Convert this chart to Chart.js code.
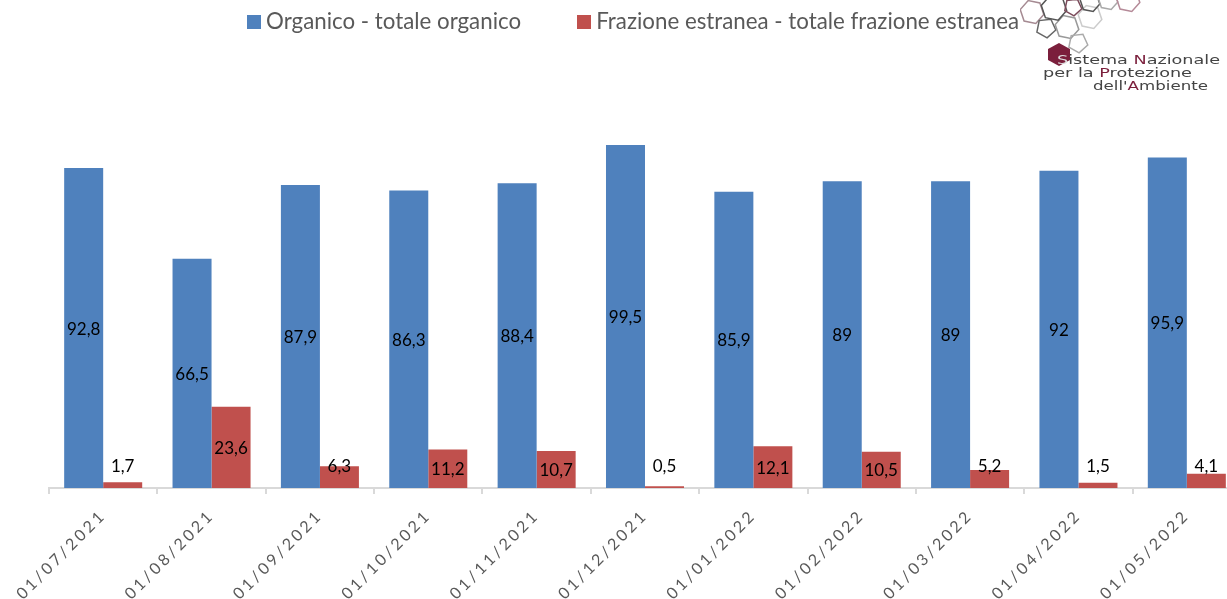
<!DOCTYPE html>
<html>
<head>
<meta charset="utf-8">
<title>Organico e frazione estranea</title>
<script src="https://cdn.jsdelivr.net/npm/chart.js@4"></script>
<style>
  html, body { margin: 0; padding: 0; background: #fff; overflow: hidden; }
  #wrap { position: relative; width: 1227px; height: 599px; overflow: hidden; }
  #chart-box { position: absolute; left: 0; top: 0; width: 1241px; height: 599px; }
  #logo { position: absolute; left: 1020px; top: 0; }
</style>
</head>
<body>
<div id="wrap">
  <div id="chart-box"><canvas id="chart"></canvas></div>
  <svg id="logo" width="207" height="100" viewBox="1020 0 207 100">
    <g fill="none" stroke-width="1.5" id="hexes"></g>
    <polygon points="1059,43 1070,49 1070,60 1059,66 1048,60 1048,49" fill="#7b1f3c"/>
    <g font-family="DejaVu Sans" font-size="12.5" fill="#444">
      <text x="1057" y="64" textLength="163" lengthAdjust="spacingAndGlyphs"><tspan fill="#ddd">S</tspan>istema <tspan fill="#7b1f3c">N</tspan>azionale</text>
      <text x="1043" y="77" textLength="149" lengthAdjust="spacingAndGlyphs">per la <tspan fill="#7b1f3c">P</tspan>rotezione</text>
      <text x="1093" y="90" textLength="115" lengthAdjust="spacingAndGlyphs">dell'<tspan fill="#7b1f3c">A</tspan>mbiente</text>
    </g>
  </svg>
</div>
<script>
const categories = ['01/07/2021', '01/08/2021', '01/09/2021', '01/10/2021', '01/11/2021', '01/12/2021',
  '01/01/2022', '01/02/2022', '01/03/2022', '01/04/2022', '01/05/2022'];
const organico = [92.8, 66.5, 87.9, 86.3, 88.4, 99.5, 85.9, 89, 89, 92, 95.9];
const estranea = [1.7, 23.6, 6.3, 11.2, 10.7, 0.5, 12.1, 10.5, 5.2, 1.5, 4.1];
const seriesNames = ['Organico - totale organico', 'Frazione estranea - totale frazione estranea'];

const BLUE = '#4f81bd';
const RED = '#c0504d';
const FONT = 'Lato, Carlito, sans-serif';

// logo outlines, just decoration
const hexes = [
  [1032, 12, 12, 6, '#a58a92'], [1046, 28, 10, 5, '#666'], [1067, 27, 12, 6, '#999'],
  [1078, 43, 10, 5, '#aaa'], [1090, 17, 12, 6, '#ccc'], [1054, 8, 13, 6, '#555'],
  [1073, 7, 9, 5, '#7b4a5a'], [1090, 2, 10, 6, '#555'], [1108, 0, 10, 6, '#aaa'], [1128, 0, 12, 6, '#b58a98']
];
document.getElementById('hexes').innerHTML = hexes.map(function(h) {
  let pts = [];
  for (let i = 0; i < h[3]; i++) {
    const a = i * 2 * Math.PI / h[3] + 0.2;
    pts.push((h[0] + h[2] * Math.cos(a)).toFixed(1) + ',' + (h[1] + h[2] * Math.sin(a)).toFixed(1));
  }
  return '<polygon points="' + pts.join(' ') + '" stroke="' + h[4] + '"/>';
}).join('');

// legend square as an image, so the text can sit closer to it than chart.js normally allows
function legendSquare(color) {
  const c = document.createElement('canvas');
  c.width = 14;
  c.height = 14;
  const g = c.getContext('2d');
  g.fillStyle = color;
  g.fillRect(0, 0, 14, 14);
  return c;
}

// category axis with spaced out tick text
class SpacedCategory extends Chart.CategoryScale {
  drawLabels(area) {
    this.ctx.save();
    this.ctx.letterSpacing = '3px';
    super.drawLabels(area);
    this.ctx.restore();
  }
}
SpacedCategory.id = 'spacedCategory';
SpacedCategory.defaults = Chart.CategoryScale.defaults;
Chart.register(SpacedCategory);

// legend needs wide item gap but sits tight at the top
const moveLegend = {
  id: 'moveLegend',
  afterLayout(chart) {
    chart.legend.left -= 9;
    chart.legend.right -= 9;
    chart.legend.top -= 51;
    chart.legend.bottom -= 51;
  }
};

const barLabels = {
  id: 'barLabels',
  afterDatasetsDraw(chart) {
    const ctx = chart.ctx;
    ctx.save();
    ctx.font = '17px ' + FONT;
    ctx.fillStyle = '#000';
    ctx.textAlign = 'center';
    ctx.textBaseline = 'middle';
    chart.data.datasets.forEach(function(ds, d) {
      chart.getDatasetMeta(d).data.forEach(function(bar, i) {
        const v = ds.data[i];
        let y = (bar.y + bar.base) / 2 + 1;
        if (v < 7) {
          y = bar.base - 21; // small bars, label sits above
        }
        ctx.fillText(String(v).replace('.', ','), bar.x, y);
      });
    });
    ctx.restore();
  }
};

new Chart(document.getElementById('chart'), {
  type: 'bar',
  data: {
    labels: categories,
    datasets: [
      { label: seriesNames[0], data: organico, backgroundColor: BLUE },
      { label: seriesNames[1], data: estranea, backgroundColor: RED }
    ]
  },
  options: {
    responsive: true,
    maintainAspectRatio: false,
    animation: false,
    layout: { padding: { left: 49, right: 0, top: 0, bottom: 0 } },
    datasets: { bar: { barPercentage: 1, categoryPercentage: 0.72 } },
    plugins: {
      tooltip: { enabled: false },
      legend: {
        position: 'top',
        labels: {
          usePointStyle: true,
          pointStyleWidth: 2,
          boxHeight: 14,
          padding: 62,
          color: '#595959',
          font: { family: FONT, size: 22.3 },
          generateLabels(chart) {
            const items = Chart.defaults.plugins.legend.labels.generateLabels(chart);
            items.forEach(function(item, i) {
              item.pointStyle = legendSquare(i === 0 ? BLUE : RED);
            });
            return items;
          }
        }
      }
    },
    scales: {
      x: {
        type: 'spacedCategory',
        offset: true,
        afterFit(scale) { scale.height = 111; },
        grid: { offset: true, drawOnChartArea: false, drawTicks: true, tickLength: 6, color: '#d9d9d9', lineWidth: 2 },
        border: { color: '#d9d9d9', width: 2 },
        ticks: {
          autoSkip: false,
          minRotation: 45,
          maxRotation: 45,
          padding: 12,
          color: '#595959',
          font: { family: FONT, size: 16 }
        }
      },
      y: { display: false, min: 0, max: 114.2 }
    }
  },
  plugins: [moveLegend, barLabels]
});
</script>
</body>
</html>
